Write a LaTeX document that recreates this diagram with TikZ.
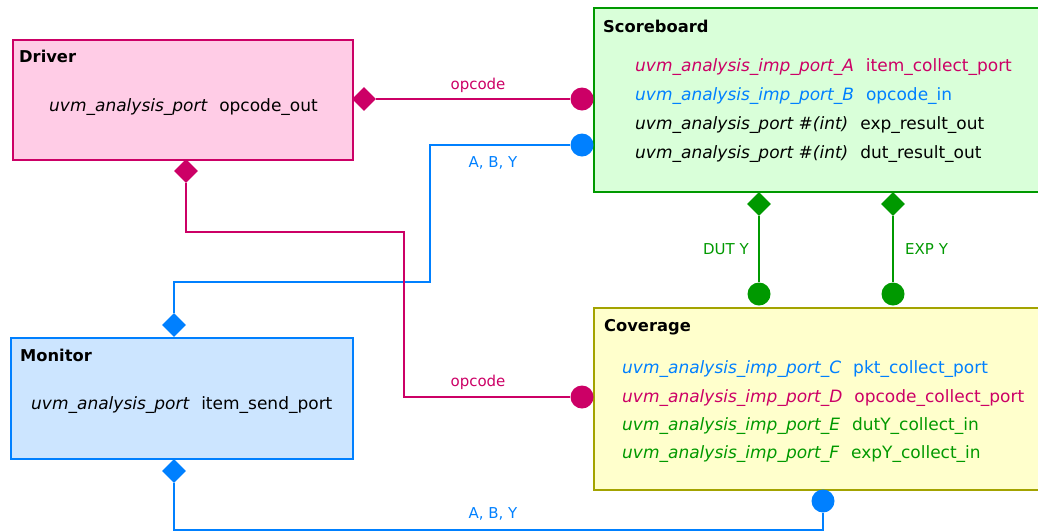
\documentclass[tikz,border=0pt]{standalone}
\usepackage{fontspec}
\setmainfont{DejaVu Sans}
\usetikzlibrary{shapes.geometric}
\definecolor{pinkline}{HTML}{CC0066}
\definecolor{pinkfill}{HTML}{FFCCE6}
\definecolor{blueline}{HTML}{0080FF}
\definecolor{bluefill}{HTML}{CCE5FF}
\definecolor{greenline}{HTML}{009900}
\definecolor{greenfill}{HTML}{D9FFD9}
\definecolor{oliveline}{HTML}{A3A300}
\definecolor{yellowfill}{HTML}{FFFFCC}
\newcommand{\porttype}[1]{{\itshape #1}\hspace{12pt}}
\begin{document}
\begin{tikzpicture}[x=1pt,y=-1pt,
  block/.style={draw, line width=1.6pt, anchor=north west, inner sep=0pt, rectangle},
  title/.style={anchor=base west, font=\fontsize{16.3}{19}\selectfont\bfseries, inner sep=0pt},
  port/.style={anchor=base west, font=\fontsize{17}{20}\selectfont, inner sep=0pt},
  src/.style={diamond, fill, inner sep=0pt, minimum size=24pt},
  dst/.style={circle, fill, inner sep=0pt, minimum size=23pt},
  wire/.style={line width=1.6pt},
  tag/.style={font=\fontsize{15}{18}\selectfont, anchor=base, inner sep=0pt}
]
\useasboundingbox (0,0) rectangle (1038,531);
\clip (0,0) rectangle (1038,531);

% component boxes
\node[block, draw=pinkline, fill=pinkfill, minimum width=340pt, minimum height=120pt] (driver) at (12,39) {};
\node[block, draw=blueline, fill=bluefill, minimum width=342pt, minimum height=121pt] (monitor) at (10,337) {};
\node[block, draw=greenline, fill=greenfill, minimum width=470pt, minimum height=184pt] (scoreboard) at (593,7) {};
\node[block, draw=oliveline, fill=yellowfill, minimum width=470pt, minimum height=182pt] (coverage) at (593,307) {};

% titles
\node[title] (drvtitle) at (19,62) {Driver};
\node[title] (montitle) at (20,361) {Monitor};
\node[title] (sbtitle) at (603,32) {Scoreboard};
\node[title] (cvtitle) at (604,331) {Coverage};

% port declarations
\node[port] (drvport) at (49,111) {\porttype{uvm\_analysis\_port}opcode\_out};
\node[port] (monport) at (31,409) {\porttype{uvm\_analysis\_port}item\_send\_port};

\node[port, pinkline] (sbl1) at (635,71) {\porttype{uvm\_analysis\_imp\_port\_A}item\_collect\_port};
\node[port, blueline] (sbl2) at (635,100) {\porttype{uvm\_analysis\_imp\_port\_B}opcode\_in};
\node[port] (sbl3) at (635,129) {\porttype{uvm\_analysis\_port \#(int)}exp\_result\_out};
\node[port] (sbl4) at (635,158) {\porttype{uvm\_analysis\_port \#(int)}dut\_result\_out};

\node[port, blueline] (cvl1) at (622,373) {\porttype{uvm\_analysis\_imp\_port\_C}pkt\_collect\_port};
\node[port, pinkline] (cvl2) at (622,402) {\porttype{uvm\_analysis\_imp\_port\_D}opcode\_collect\_port};
\node[port, greenline] (cvl3) at (622,430) {\porttype{uvm\_analysis\_imp\_port\_E}dutY\_collect\_in};
\node[port, greenline] (cvl4) at (622,458) {\porttype{uvm\_analysis\_imp\_port\_F}expY\_collect\_in};

% analysis ports (diamonds) and imps (circles)
\node[src, pinkline] (drvright) at (364,99) {};
\node[src, pinkline] (drvdown) at (186,171) {};
\node[src, blueline] (monup) at (174,325) {};
\node[src, blueline] (mondown) at (174,471) {};
\node[src, greenline] (sbdut) at (759,204) {};
\node[src, greenline] (sbexp) at (893,204) {};

\node[dst, pinkline] (sbA) at (582,99) {};
\node[dst, blueline] (sbB) at (582,145) {};
\node[dst, pinkline] (cvD) at (582,397) {};
\node[dst, blueline] (cvC) at (823,501) {};
\node[dst, greenline] (cvE) at (759,294) {};
\node[dst, greenline] (cvF) at (893,294) {};

% wire bends
\coordinate (bendB) at (430,282);
\coordinate (bendD) at (404,232);
\coordinate (bendC) at (823,530);

% connections
\draw[wire, pinkline] (drvright) -- (sbA);
\draw[wire, blueline] (sbB) -| (bendB) -| (monup);
\draw[wire, pinkline] (drvdown) |- (bendD) |- (cvD);
\draw[wire, blueline] (mondown) |- (bendC) -- (cvC);
\draw[wire, greenline] (sbdut) -- (cvE);
\draw[wire, greenline] (sbexp) -- (cvF);

% connection labels
\node[tag, pinkline] (lblop1) at (478,89) {opcode};
\node[tag, blueline] (lblaby1) at (493,167) {A, B, Y};
\node[tag, pinkline] (lblop2) at (478,386) {opcode};
\node[tag, blueline] (lblaby2) at (493,518) {A, B, Y};
\node[tag, greenline, anchor=base east] (lbldut) at (749,254) {DUT Y};
\node[tag, greenline, anchor=base west] (lblexp) at (905,254) {EXP Y};
\end{tikzpicture}
\end{document}
